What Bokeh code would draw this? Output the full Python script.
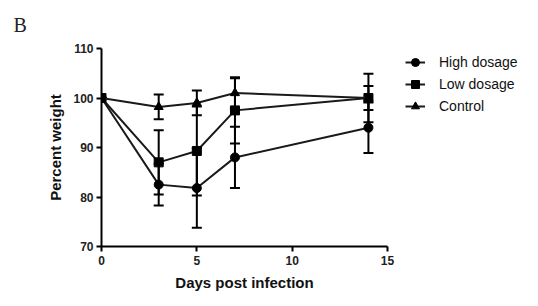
from bokeh.plotting import figure
from bokeh.models import ColumnDataSource, Whisker, TeeHead, Legend, LegendItem, Range1d, Title, FixedTicker
from bokeh.embed import file_html
from bokeh.resources import INLINE

days = [0, 3, 5, 7, 14]
high = [100, 82.5, 81.8, 88.0, 94.0]
high_err = [0, 4.2, 8.0, 6.2, 5.1]
low = [100, 87.0, 89.3, 97.5, 100.0]
low_err = [0, 6.5, 9.0, 6.7, 4.9]
ctrl = [100, 98.2, 99.0, 101.0, 100.0]
ctrl_err = [0, 2.5, 2.5, 3.0, 2.4]
x_ticks = [0, 5, 10, 15]
y_ticks = [70, 80, 90, 100, 110]

p = figure(frame_width=286, frame_height=198, output_backend="svg", toolbar_location=None,
           x_range=Range1d(0, 15), y_range=Range1d(70, 110),
           min_border_left=101, min_border_right=151, min_border_top=48, min_border_bottom=60)
p.title = Title(text="B", align="left", offset=-88, text_font="Liberation Serif",
                text_font_size="20px", text_font_style="normal", text_color="#222222",
                standoff=22, vertical_align="top")
p.xgrid.visible = False
p.ygrid.visible = False
p.outline_line_color = None
p.background_fill_color = "white"

for ax in (p.xaxis[0], p.yaxis[0]):
    ax.axis_line_width = 2
    ax.axis_line_color = "black"
    ax.major_tick_line_width = 2
    ax.major_tick_line_color = "black"
    ax.major_tick_out = 5
    ax.major_tick_in = 0
    ax.minor_tick_line_color = None
    ax.major_label_text_font = "Liberation Sans"
    ax.major_label_text_font_style = "bold"
    ax.major_label_text_font_size = "12px"
    ax.major_label_text_color = "#222222"
    ax.axis_label_text_font = "Liberation Sans"
    ax.axis_label_text_font_style = "bold"
    ax.axis_label_text_font_size = "15px"
    ax.axis_label_text_color = "#111111"

p.xaxis.ticker = FixedTicker(ticks=x_ticks)
p.yaxis.ticker = FixedTicker(ticks=y_ticks)
p.xaxis.axis_label = "Days post infection"
p.yaxis.axis_label = "Percent weight"
p.xaxis.major_label_standoff = 4
p.yaxis.major_label_standoff = 3
p.xaxis.axis_label_standoff = 6
p.yaxis.axis_label_standoff = 6

series = [
    (high, high_err, "circle", "High dosage"),
    (low, low_err, "square", "Low dosage"),
    (ctrl, ctrl_err, "triangle", "Control"),
]
items = []
for vals, errs, marker, name in series:
    src = ColumnDataSource(dict(
        x=days, y=vals,
        lo=[v - e for v, e in zip(vals, errs)],
        hi=[v + e for v, e in zip(vals, errs)],
    ))
    w = Whisker(source=src, base="x", upper="hi", lower="lo", line_width=2, line_color="black",
                upper_head=TeeHead(size=10, line_width=2, line_color="black"),
                lower_head=TeeHead(size=10, line_width=2, line_color="black"))
    p.add_layout(w)
    ln = p.line("x", "y", source=src, line_width=2, line_color="#1a1a1a")
    mk = p.scatter("x", "y", source=src, marker=marker, size=9, fill_color="black", line_color="black")
    items.append(LegendItem(label=name, renderers=[ln, mk]))

legend = Legend(items=items, location=(18, 130), background_fill_alpha=0, border_line_color=None,
                label_text_font="Liberation Sans", label_text_font_size="14px",
                label_text_color="#111111", glyph_width=20, glyph_height=20, label_height=20,
                spacing=2, padding=5, margin=0, label_standoff=14)
p.add_layout(legend, "right")

open("out.html", "w").write(file_html(p, INLINE))
